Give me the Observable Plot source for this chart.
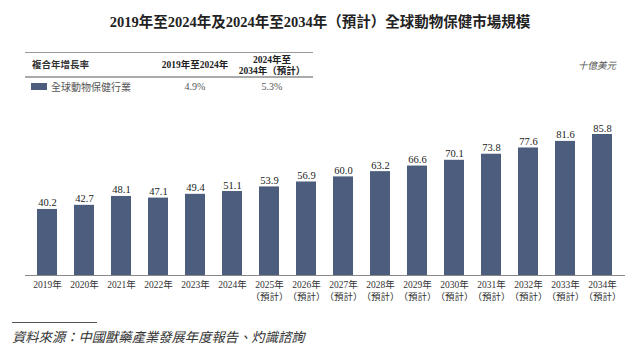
<!DOCTYPE html>
<html>
<head>
<meta charset="utf-8">
<script src="https://cdn.jsdelivr.net/npm/d3@7"></script>
<script src="https://cdn.jsdelivr.net/npm/@observablehq/plot@0.6"></script>
<style>
  body { margin: 0; background: #fff; }
  #wrap { position: relative; width: 640px; height: 354px; overflow: hidden; font-family: "Liberation Serif", "Noto Sans CJK TC", serif; color: #222; }
  .abs { position: absolute; white-space: nowrap; }
  .c { transform: translate(-50%, -50%); }
  .l { transform: translate(0, -50%); }
  #chart { position: absolute; left: 0; top: 100px; }
</style>
</head>
<body>
<div id="wrap">
  <div class="abs c" style="left:320px;top:20px;font-size:14.5px;font-weight:bold;" id="title"></div>

  <div class="abs" style="left:25px;top:52px;width:288px;height:1px;background:#999;"></div>
  <div class="abs l" style="left:32px;top:64px;font-size:9.5px;font-weight:bold;color:#333;font-family:'Noto Sans CJK TC',sans-serif;" id="hdr"></div>
  <div class="abs c" style="left:195px;top:64px;font-size:9.5px;font-weight:bold;" id="p1"></div>
  <div class="abs c" style="left:272px;top:59px;font-size:9.5px;font-weight:bold;" id="p2a"></div>
  <div class="abs c" style="left:272px;top:70px;font-size:9.5px;font-weight:bold;" id="p2b"></div>
  <div class="abs" style="left:25px;top:76px;width:288px;height:2px;background:#aaa;"></div>
  <div class="abs" style="left:31px;top:83px;width:16px;height:7px;background:#4c5d7d;"></div>
  <div class="abs l" style="left:51px;top:86px;font-size:10px;color:#555;" id="series"></div>
  <div class="abs c" style="left:195px;top:86px;font-size:10px;color:#555;" id="r1"></div>
  <div class="abs c" style="left:272px;top:86px;font-size:10px;color:#555;" id="r2"></div>
  <div class="abs c" style="left:597px;top:65px;font-size:9.5px;font-style:italic;color:#555;" id="unit"></div>

  <div id="chart"></div>

  <div class="abs" style="left:12px;top:322px;width:85px;height:1px;background:#555;"></div>
  <div class="abs l" style="left:12px;top:336px;font-size:13.3px;font-style:italic;color:#333;" id="src"></div>
</div>
<script>
const years = ["2019","2020","2021","2022","2023","2024","2025","2026","2027","2028","2029","2030","2031","2032","2033","2034"];
const values = [40.2, 42.7, 48.1, 47.1, 49.4, 51.1, 53.9, 56.9, 60.0, 63.2, 66.6, 70.1, 73.8, 77.6, 81.6, 85.8];
const forecast = [false,false,false,false,false,false,true,true,true,true,true,true,true,true,true,true];
const tickLabels = years.map((y, i) => forecast[i] ? y + "年\n（預計）" : y + "年");

const titleText = "2019年至2024年及2024年至2034年（預計）全球動物保健市場規模";
const titleHeader = "複合年增長率";
const periodLabels = ["2019年至2024年", "2024年至", "2034年（預計）"];
const seriesName = "全球動物保健行業";
const cagrValues = ["4.9%", "5.3%"];
const unitLabel = "十億美元";
const sourceText = "資料來源：中國獸藥產業發展年度報告、灼識諮詢";

document.getElementById("title").textContent = titleText;
document.getElementById("hdr").textContent = titleHeader;
document.getElementById("p1").textContent = periodLabels[0];
document.getElementById("p2a").textContent = periodLabels[1];
document.getElementById("p2b").textContent = periodLabels[2];
document.getElementById("series").textContent = seriesName;
document.getElementById("r1").textContent = cagrValues[0];
document.getElementById("r2").textContent = cagrValues[1];
document.getElementById("unit").textContent = unitLabel;
document.getElementById("src").textContent = sourceText;

const data = years.map((y, i) => ({year: y, value: values[i], label: tickLabels[i]}));
const font = "Liberation Serif, Noto Sans CJK TC, serif";

const chart = Plot.plot({
  width: 640,
  height: 210,
  marginLeft: 25,
  marginRight: 15,
  marginTop: 34,
  marginBottom: 35,
  style: {fontFamily: font, background: "transparent"},
  x: {type: "band", domain: years, paddingInner: 0.45, paddingOuter: 0.225, axis: null},
  y: {domain: [0, 85.8], axis: null},
  marks: [
    Plot.barY(data, {x: "year", y: "value", fill: "#4c5d7d"}),
    Plot.ruleY([0], {stroke: "#888", strokeWidth: 1}),
    Plot.text(data, {x: "year", y: "value", text: d => d.value.toFixed(1), dy: -3, lineAnchor: "bottom", fontSize: 10.5, fill: "#222"}),
    Plot.axisX({domain: years, tickSize: 0, tickPadding: 4, fontSize: 9.5, lineHeight: 1.25, fill: "#333", tickFormat: (d) => tickLabels[years.indexOf(d)], label: null})
  ]
});
document.getElementById("chart").appendChild(chart);
</script>
</body>
</html>
